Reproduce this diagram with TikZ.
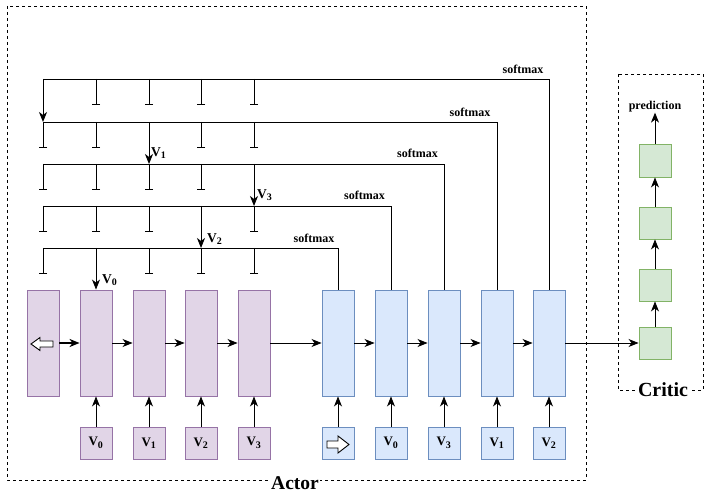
\documentclass[tikz,border=0pt]{standalone}
\usepackage{fontspec}
\setmainfont{Liberation Serif}
\usetikzlibrary{arrows.meta}
\definecolor{pfill}{HTML}{E1D5E7}
\definecolor{pdraw}{HTML}{9673A6}
\definecolor{bfill}{HTML}{DAE8FC}
\definecolor{bdraw}{HTML}{6C8EBF}
\definecolor{gfill}{HTML}{D5E8D4}
\definecolor{gdraw}{HTML}{82B366}
\newcommand{\vsub}[1]{V\textsubscript{\fontsize{10}{10}\selectfont #1}}
\begin{document}
\begin{tikzpicture}[x=1pt,y=-1pt,
  tall/.style={rectangle, inner sep=0pt, minimum width=32pt, minimum height=106pt, line width=0.9pt},
  small/.style={rectangle, inner sep=0pt, minimum width=32pt, minimum height=32pt, line width=0.9pt, font=\bfseries\fontsize{13}{13}\selectfont},
  purp/.style={fill=pfill, draw=pdraw},
  blu/.style={fill=bfill, draw=bdraw},
  grn/.style={fill=gfill, draw=gdraw},
  conn/.style={line width=0.9pt},
  arr/.style={conn, -{Stealth[length=10pt,width=8pt,inset=3pt]}},
  tee/.style={conn, -{Bar[width=8pt]}},
  lbl/.style={font=\bfseries\fontsize{12}{12}\selectfont, inner sep=0pt},
  vlbl/.style={font=\bfseries\fontsize{13.5}{13.5}\selectfont, inner sep=0pt, anchor=west},
  frame/.style={dash pattern=on 3pt off 3pt, line width=0.9pt},
  hollow/.style={draw, fill=white, line width=0.9pt, line join=miter},
  title/.style={fill=white, inner sep=1pt, font=\bfseries\fontsize{20}{20}\selectfont}
]
\useasboundingbox (0,0) rectangle (713,497);

% frames
\draw[frame] (7,6) rectangle (586,480);
\draw[frame] (618,74) rectangle (703,390);

% encoder (purple)
\foreach \i/\x in {1/43,2/96,3/149,4/201,5/254}
  \node[tall,purp] (p\i) at (\x,343) {};
% decoder (blue)
\foreach \i/\x in {1/338,2/391,3/444,4/497,5/549}
  \node[tall,blu] (b\i) at (\x,343) {};

% inputs
\node[small,purp] (pi2) at (96,443) {\vsub{0}};
\node[small,purp] (pi3) at (149,443) {\vsub{1}};
\node[small,purp] (pi4) at (201,443) {\vsub{2}};
\node[small,purp] (pi5) at (254,443) {\vsub{3}};
\node[small,blu] (bi1) at (338,443) {};
\node[small,blu] (bi2) at (391,443) {\vsub{0}};
\node[small,blu] (bi3) at (444,443) {\vsub{3}};
\node[small,blu] (bi4) at (497,443) {\vsub{1}};
\node[small,blu] (bi5) at (549,443) {\vsub{2}};

% critic
\node[small,grn] (g1) at (655,343) {};
\node[small,grn] (g2) at (655,285) {};
\node[small,grn] (g3) at (655,223) {};
\node[small,grn,minimum height=33pt] (g4) at (655,160.5) {};
\node[lbl] (pred) at (655,107) {prediction};

% hollow arrows
\draw[hollow] (31,344) -- (40,337.5) -- (40,341) -- (53,341) -- (53,347) -- (40,347) -- (40,350.5) -- cycle;
\draw[hollow] (349,444.5) -- (338,436) -- (338,441) -- (327,441) -- (327,448) -- (338,448) -- (338,453) -- cycle;

% horizontal chain
\draw[arr, line width=2pt] (p1.east) -- (p2.west);
\draw[arr] (p2.east) -- (p3.west);
\draw[arr] (p3.east) -- (p4.west);
\draw[arr] (p4.east) -- (p5.west);
\draw[arr] (p5.east) -- (b1.west);
\draw[arr] (b1.east) -- (b2.west);
\draw[arr] (b2.east) -- (b3.west);
\draw[arr] (b3.east) -- (b4.west);
\draw[arr] (b4.east) -- (b5.west);
\draw[arr] (b5.east) -- (g1.west);

% inputs up
\foreach \i in {2,3,4,5} \draw[arr] (pi\i.north) -- (p\i.south);
\foreach \i in {1,2,3,4,5} \draw[arr] (bi\i.north) -- (b\i.south);

% critic chain
\draw[arr] (g1.north) -- (g2.south);
\draw[arr] (g2.north) -- (g3.south);
\draw[arr] (g3.north) -- (g4.south);
\draw[arr] (g4.north) -- (pred.south);

% pointer lines
\foreach \k/\y in {1/79,2/122,3/164,4/206,5/248}
  \foreach \j/\x in {1/43,2/96,3/149,4/201,5/254}
    \coordinate (c\k\j) at (\x,\y);

\draw[conn] (b5.north) |- (c11);
\draw[conn] (b4.north) |- (c21);
\draw[conn] (b3.north) |- (c31);
\draw[conn] (b2.north) |- (c41);
\draw[conn] (b1.north) |- (c51);

\draw[arr] (c11) -- (c21);
\draw[arr] (c23) -- (c33);
\draw[arr] (c35) -- (c45);
\draw[arr] (c44) -- (c54);
\draw[arr] (c52) -- (p2.north);

\foreach \c in {12,13,14,15, 21,22,24,25, 31,32,33,34, 41,42,43,45, 51,53,54,55}
  \draw[tee] (c\c) -- ++(0,26);

% labels
\node[lbl] at (523,69) {softmax};
\node[lbl] at (470,112) {softmax};
\node[lbl] at (417.5,153) {softmax};
\node[lbl] at (364.5,195) {softmax};
\node[lbl] at (314,238) {softmax};

\node[vlbl] at (151,153) {\vsub{1}};
\node[vlbl] at (257,195) {\vsub{3}};
\node[vlbl] at (207,239) {\vsub{2}};
\node[vlbl] at (102,280) {\vsub{0}};

\node[title] at (663,390) {Critic};
\node[title,font=\bfseries\fontsize{19.5}{19.5}\selectfont] at (295,483) {Actor};
\end{tikzpicture}
\end{document}
